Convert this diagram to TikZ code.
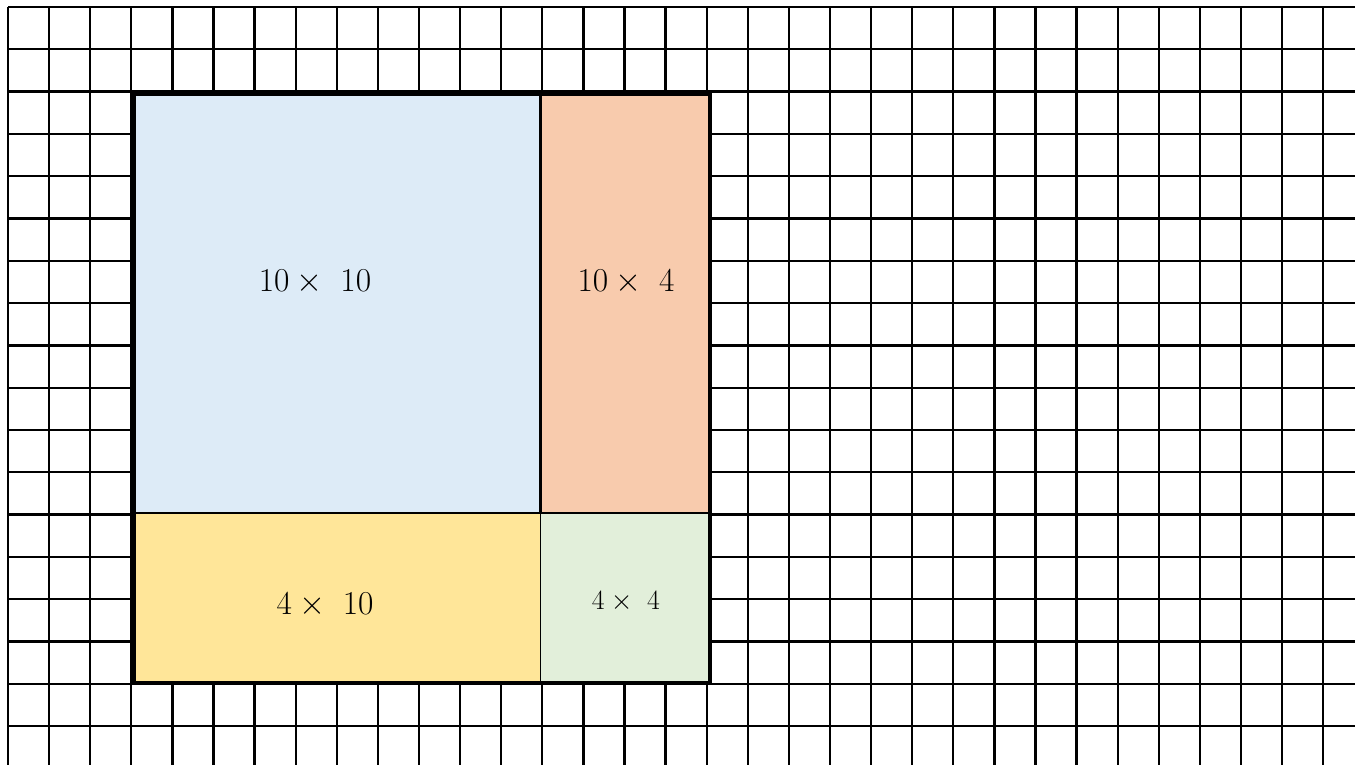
\documentclass[tikz,border=0pt]{standalone}
\usepackage{amsmath}
\usepackage{tikz}
\usepackage{xcolor}
\usetikzlibrary{
    positioning,
    calc
}
\tikzset{
  gridline/.style = {line width=1.6pt, black},
  outer/.style    = {draw=black, line width=2.9pt},
  part/.style     = {draw=black, line width=0.8pt},
  prod/.style     = {inner sep=0pt, font=\Huge, transform shape, scale=0.93},
  sprod/.style    = {inner sep=0pt, font=\huge, transform shape, scale=0.93}
}
\definecolor{areaBlue}{RGB}{221,235,247}
\definecolor{areaOrange}{RGB}{248,203,173}
\definecolor{areaYellow}{RGB}{255,230,153}
\definecolor{areaGreen}{RGB}{226,239,218}

\begin{document}
\begin{tikzpicture}[x=0.02433cm, y=-0.02433cm]
\useasboundingbox (0,0) rectangle (1355,765);

% grid
\foreach \i in {0,...,32}
    \draw[gridline] (8+41.1*\i, 7) -- (8+41.1*\i, 765);
\foreach \j in {0,...,17}
    \draw[gridline] (8, 7+42.3*\j) -- (1355, 7+42.3*\j);

% parts of the area
\fill[areaBlue]   (134,93.5) rectangle (540.5,513);
\fill[areaOrange] (540.5,93.5) rectangle (710,513);
\fill[areaYellow] (134,513) rectangle (540.5,683);
\fill[areaGreen]  (540.5,513) rectangle (710,683);

% dividers
\draw[part] (134,513) -- (540.5,513);
\draw[part, line width=1.4pt] (540.5,513) -- (710,513);
\draw[part, line width=2pt] (540.5,93.5) -- (540.5,513);
\draw[part] (540.5,513) -- (540.5,683);
\draw[outer] (134,93.5) rectangle (710,683);

% products
\node[prod]  (p1010) at (315,282) {$10\times\ 10$};
\node[prod]  (p104)  at (626,282) {$10\times\ 4$};
\node[prod]  (p410)  at (325,605) {$4\times\ 10$};
\node[sprod] (p44)   at (626,602) {$4\times\ 4$};

\end{tikzpicture}
\end{document}
